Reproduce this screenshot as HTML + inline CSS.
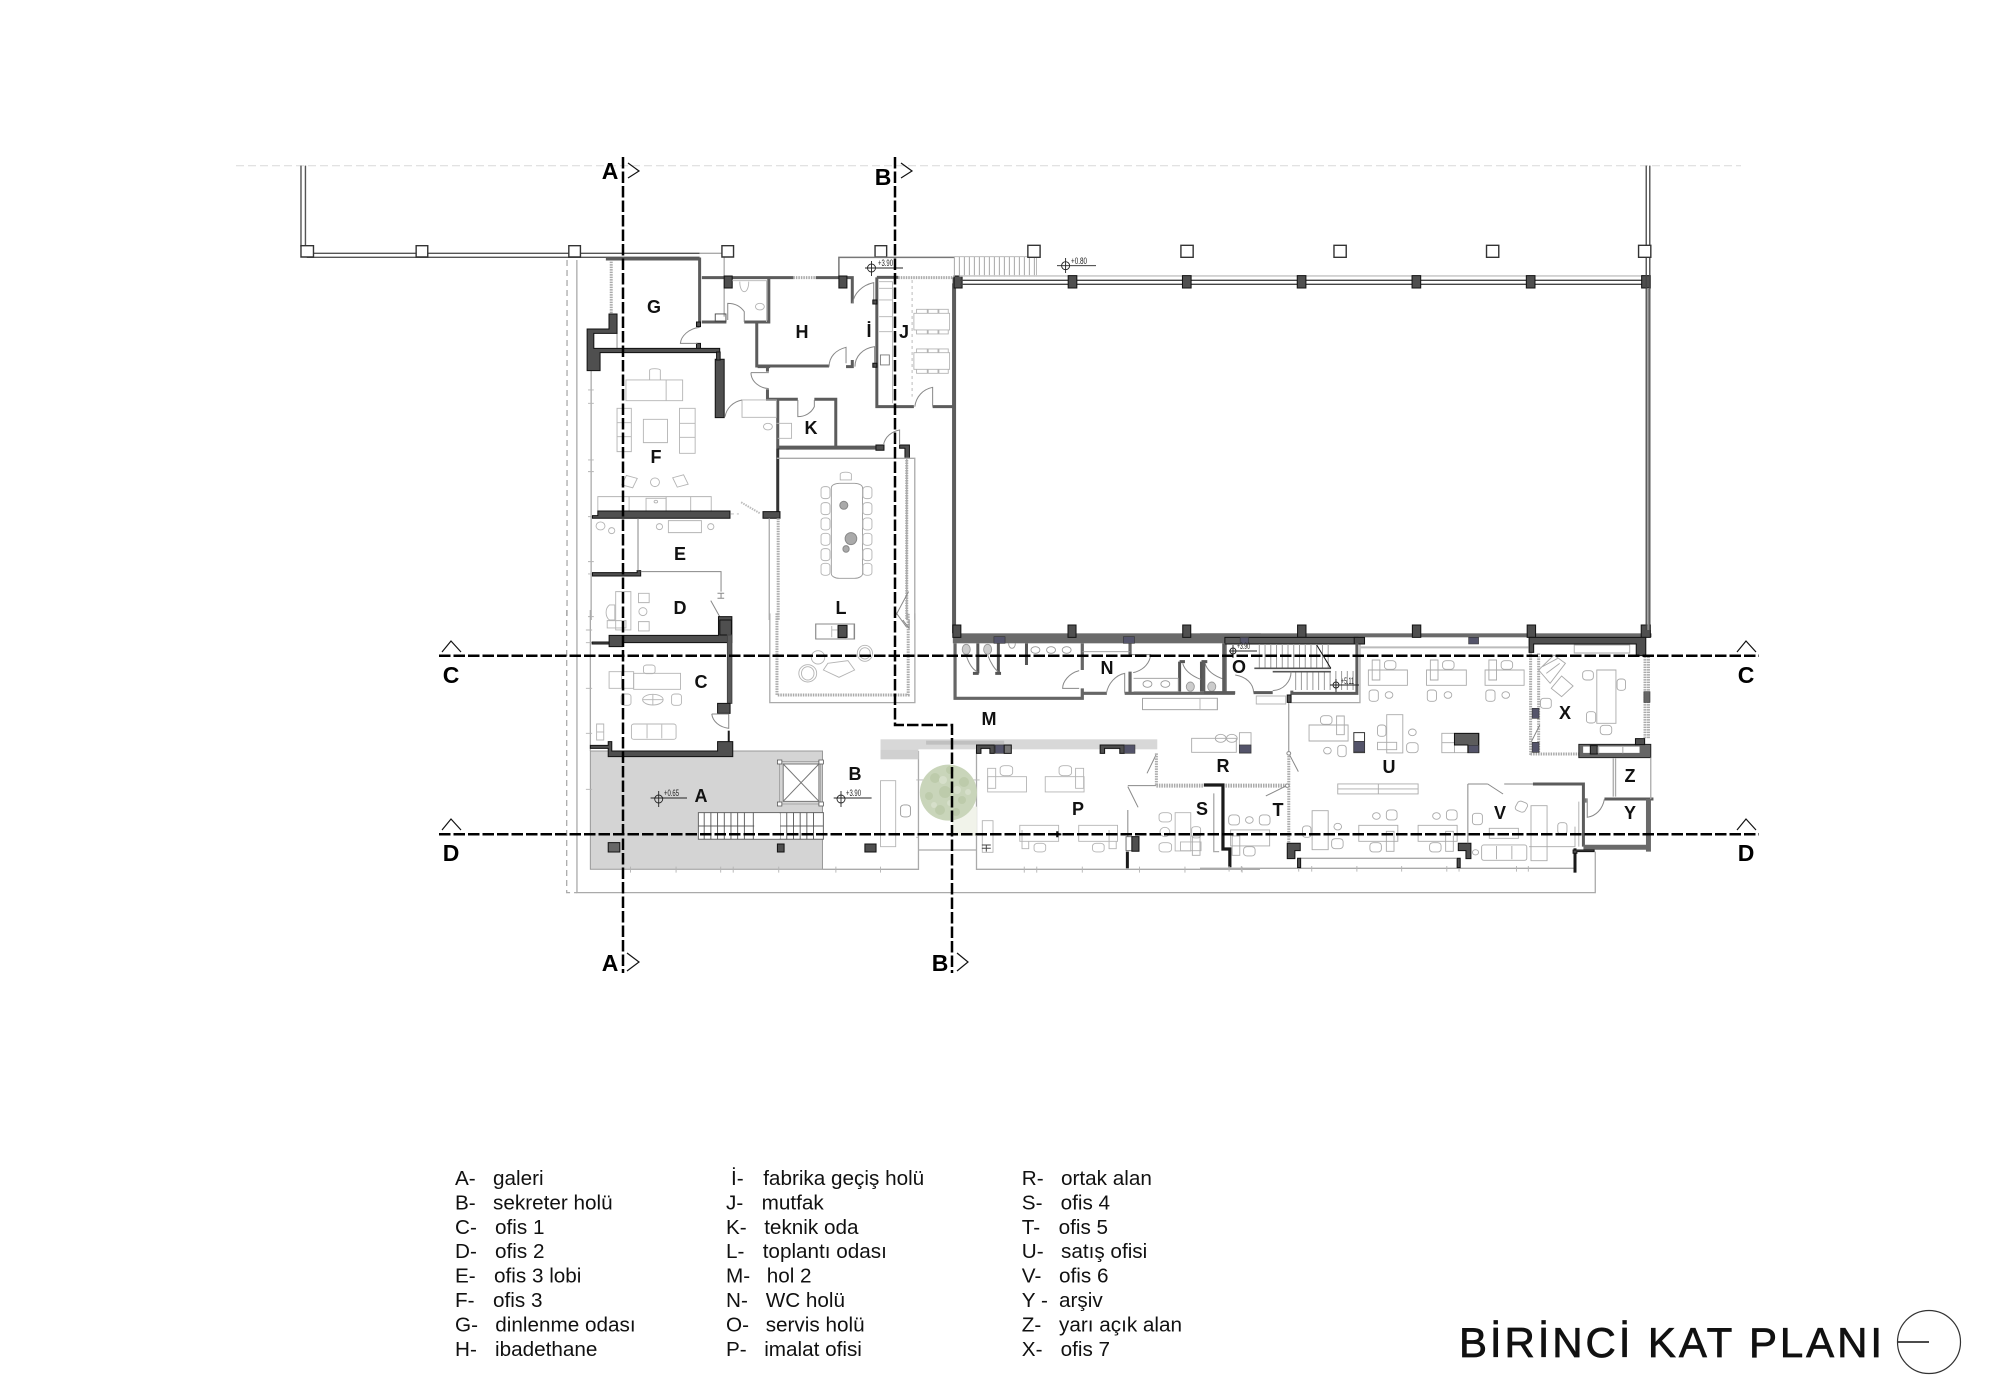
<!DOCTYPE html>
<html><head><meta charset="utf-8"><title>Birinci Kat Planı</title>
<style>
html,body{margin:0;padding:0;background:#fff}
svg{display:block}
svg *{vector-effect:non-scaling-stroke}
.w{fill:none;stroke:#5c5c5c;stroke-width:3}
.b{fill:none;stroke:#1a1a1a;stroke-width:3}
.d{fill:#4f4f4f;stroke:#111;stroke-width:1}
.u{fill:#54546a;stroke:#333;stroke-width:.6}
.f{fill:none;stroke:#b4b4b4;stroke-width:.9}
.t{fill:none;stroke:#888;stroke-width:1}
.g{fill:none;stroke:#aaa;stroke-width:1.3}
.h{fill:none;stroke:#aaa;stroke-width:3;stroke-dasharray:1.5 1}
.s{fill:none;stroke:#000;stroke-width:2.5;stroke-dasharray:11.5 3}
.c{fill:none;stroke:#111;stroke-width:1.2}
.l{font:bold 18px "Liberation Sans",sans-serif;text-anchor:middle;fill:#111}
.x{font:bold 23px "Liberation Sans",sans-serif;text-anchor:middle;fill:#000}
.k{font:20.7px "Liberation Sans","Noto Sans CJK SC",sans-serif;fill:#111}
.e{font:9px "Liberation Sans",sans-serif;fill:#222}
</style></head><body>
<svg width="2000" height="1400" viewBox="0 0 2000 1400" xmlns="http://www.w3.org/2000/svg">
<rect width="2000" height="1400" fill="#fff"/>
<path d="M236 165.7H1741" fill="none" stroke="#dedede" stroke-width="1.2" stroke-dasharray="8 4"/>

<!-- ZOOM-1 REGION -->
<g transform="translate(280 150) scale(.4464 .3333)">
<path class="t" style="stroke:#555;stroke-width:1.4" d="M47 47V290M57 47V290M60 310H940M60 322H940"/>
<path class="g" style="stroke:#aaa" d="M940 310H990M995 322V500"/>
<g fill="#fff" stroke="#333" stroke-width="1.4">
<rect x="47" y="287" width="28" height="34"/><rect x="305" y="287" width="26" height="34"/><rect x="647" y="287" width="26" height="34"/><rect x="990" y="287" width="26" height="34"/><rect x="1333" y="287" width="26" height="34"/>
</g>
<path class="g" d="M643 330V1410" style="stroke-dasharray:6 4"/>
<path class="g" d="M665 330V1410M697 662V1410M755 550V596"/>
<path class="f" d="M690 720H703M690 760H703M690 930H703M690 965H703M690 1100H703M690 1235H703M690 1272H703M690 1400H703"/>
<path class="h" d="M742 335V492"/>
<!-- G/H walls -->
<path class="w" d="M730 327H940V520"/>
<path class="w" d="M945 383H1150M1200 383H1282V460M1282 630V650H1268"/>
<path class="h" d="M1150 383H1200"/>
<path class="t" style="stroke:#777;stroke-width:1.5" d="M1252 382V322H1510"/>
<path class="w" d="M1095 385V516H1040M945 516H1000M1068 516V648H1230"/>
<rect class="d" x="995" y="378" width="18" height="36"/><rect class="d" x="1252" y="378" width="18" height="36"/>
<rect class="d" x="933" y="516" width="9" height="14" /><rect class="d" x="933" y="580" width="9" height="18"/>
<rect class="f" x="975" y="492" width="24" height="22" style="stroke:#444"/>
<path class="f" d="M1013 392H1090V516M1030 395c0 40 20 40 20 0M1065 470a10 10 0 1 0 20 0a10 10 0 1 0-20 0"/>
<path class="t" d="M1040 516V485C1030 465 1015 460 1003 460V510M940 532C915 535 898 560 897 580H935"/>
<!-- stepped wall -->
<path class="d" d="M737 492H755V550H703V595H985V608H717V662H688V537H737Z"/>
<rect class="d" x="975" y="628" width="20" height="175"/>
<rect class="d" x="978" y="606" width="8" height="24"/>
<!-- middle -->
<path class="w" d="M1092 650V665M1070 650H1098M1092 718V748H1160M1197 748H1245V892M1115 750V895"/>
<path class="t" d="M1055 668H1095M1055 668C1055 695 1075 715 1095 716M1197 750V770C1190 790 1175 800 1160 800V750"/>
<path class="w" style="stroke-width:4" d="M1115 893H1336"/>
<rect class="d" x="1335" y="885" width="18" height="16"/>
<path class="d" d="M1388 885H1410V925H1400V895H1388Z"/>
<path class="b" style="stroke-width:3;stroke:#333" d="M1115 895V1090"/>
<rect class="d" x="1082" y="1085" width="38" height="20"/>
<path class="t" d="M1352 885C1355 860 1370 845 1388 840V885"/>
<path class="f" d="M1035 750H1112V802H1035ZM1112 820H1146V865H1115"/>
<circle class="f" cx="1093" cy="830" r="10"/>
<path class="t" d="M997 800C1000 775 1015 755 1035 750"/>
<!-- J room -->
<path class="w" d="M1337 382H1385M1337 382V770H1420M1462 770H1510M1510 382V1450"/>
<path class="w" style="stroke-width:4" d="M1510 400V1450"/>
<path class="h" d="M1385 383H1508"/>
<rect class="d" x="1510" y="378" width="18" height="36"/>
<path class="t" d="M1283 460C1285 430 1305 405 1330 398V450M1288 650C1288 620 1305 595 1332 590V650M1230 650C1230 620 1245 600 1268 592V640M1422 770C1425 740 1440 718 1462 712V770"/>
<rect class="d" x="1328" y="450" width="9" height="12"/><rect class="d" x="1328" y="640" width="9" height="12"/>
<path class="f" d="M1342 395H1372V760M1342 415H1372V450H1342M1342 500H1372V545H1342"/>
<rect class="f" x="1345" y="615" width="20" height="30" style="stroke:#777"/>
<path class="t" style="stroke:#bbb" stroke-dasharray="3 3" d="M1416 390V740"/>
<g class="f"><rect x="1420" y="490" width="80" height="50"/><rect x="1420" y="608" width="80" height="50"/>
<path d="M1426 490V478H1450V490M1452 490V478H1474V490M1476 490V478H1497V490M1426 540V552H1450V540M1452 540V552H1474V540M1476 540V552H1497V540M1426 608V597H1450V608M1452 608V597H1474V608M1476 608V597H1497V608M1426 658V670H1450V658M1452 658V670H1474V658M1476 658V670H1497V658"/></g>
<!-- F furniture -->
<g class="f">
<path d="M775 690H902V752H775ZM865 690V752"/><path d="M828 690V660C830 655 848 655 852 660V690"/>
<rect x="755" y="775" width="32" height="130"/><path d="M755 818H787M755 860H787"/>
<rect x="895" y="775" width="35" height="135"/><path d="M895 820H930M895 862H930"/>
<rect x="814" y="808" width="54" height="70"/>
<rect x="770" y="980" width="26" height="30" transform="rotate(20 783 995)"/><ellipse cx="840" cy="997" rx="10" ry="13"/><rect x="884" y="978" width="26" height="30" transform="rotate(-20 897 993)"/>
<path d="M712 1083V1040H966V1083M782 1040V1083M865 1040V1083M920 1040V1083"/>
<rect x="820" y="1045" width="45" height="38"/><circle cx="842" cy="1055" r="4"/>
<rect x="870" y="1112" width="74" height="36"/><ellipse cx="850" cy="1130" rx="7" ry="9"/><ellipse cx="965" cy="1130" rx="7" ry="9"/><ellipse cx="718" cy="1128" rx="10" ry="12"/><ellipse cx="743" cy="1142" rx="7" ry="9"/>
</g>
<path class="h" style="stroke-width:2;stroke:#bbb" d="M1033 1057L1075 1090"/>
<path class="f" d="M1010 1092H1028" stroke-dasharray="3 3"/>
<!-- F/E, E/D walls -->
<path class="d" d="M712 1083H1008V1105H700V1097H712Z"/>
<path class="d" d="M700 1268H800V1262H808V1278H700Z"/>
<path class="t" d="M808 1265H988V1325M980 1330H995M988 1330V1345M980 1345H995M965 1352L985 1400M802 1105V1262"/>
<g class="f">
<rect x="752" y="1325" width="34" height="115"/><path d="M738 1365C728 1375 728 1400 738 1410H750V1365Z"/>
<rect x="733" y="1412" width="42" height="22"/>
<rect x="803" y="1330" width="24" height="28"/><ellipse cx="813" cy="1385" rx="9" ry="12"/><rect x="803" y="1415" width="24" height="28"/>
</g>
<!-- L room top -->
<path class="g" d="M1096 1105V1410M1113 925H1422V1410M1404 925V1410"/>
<path class="h" d="M1116 1105V1410M1404 930V1410"/>
<g class="f">
<rect x="1235" y="1000" width="70" height="285" rx="18" ry="14" style="stroke:#999"/>
<path d="M1255 990V972C1258 965 1276 965 1280 972V990H1255Z"/>
<rect x="1212" y="1010" width="20" height="36" rx="8"/><rect x="1212" y="1058" width="20" height="36" rx="8"/><rect x="1212" y="1104" width="20" height="36" rx="8"/><rect x="1212" y="1150" width="20" height="36" rx="8"/><rect x="1212" y="1196" width="20" height="36" rx="8"/><rect x="1212" y="1240" width="20" height="36" rx="8"/>
<rect x="1306" y="1010" width="20" height="36" rx="8"/><rect x="1306" y="1058" width="20" height="36" rx="8"/><rect x="1306" y="1104" width="20" height="36" rx="8"/><rect x="1306" y="1150" width="20" height="36" rx="8"/><rect x="1306" y="1196" width="20" height="36" rx="8"/><rect x="1306" y="1240" width="20" height="36" rx="8"/>
</g>
<ellipse cx="1263" cy="1066" rx="9" ry="12" fill="#aaa" stroke="#888"/><ellipse cx="1279" cy="1166" rx="13" ry="18" fill="#aaa" stroke="#888"/><ellipse cx="1268" cy="1197" rx="7" ry="10" fill="#aaa" stroke="#888"/>
<rect class="f" x="1200" y="1422" width="86" height="45" style="stroke:#888"/>
<rect class="d" x="1250" y="1428" width="18" height="35"/>
<path class="f" d="M1236 1428V1462M1236 1440H1250"/>
<path class="t" d="M1380 1395L1408 1325M1380 1388L1404 1432"/>
</g>

<!-- ZOOM-2 REGION -->
<g transform="translate(560 620) scale(.4464 .3333)">
<path d="M68 393H588V748H68Z" fill="#d4d4d4" stroke="#999" stroke-width="1"/>
<path class="g" style="stroke:#aaa;stroke-dasharray:6 4" d="M15 -30V818H38"/>
<path class="g" d="M38 -30V818H1568M68 -30V393"/>
<path class="f" d="M58 30H72M58 68H72M58 205H72M58 340H72M58 508H72"/>
<!-- D/C walls -->
<path class="d" d="M110 46H355V-10H385V68H140V80H110V66H72V72H110Z" />
<rect class="d" x="358" y="0" width="26" height="45"/>
<rect class="w" style="stroke:#444;stroke-width:1;fill:#5a5a5a" x="375" y="45" width="10" height="205"/>
<rect class="d" x="353" y="250" width="28" height="30"/>
<path class="t" d="M340 282C342 305 358 322 378 325V282H340"/>
<path class="b" style="stroke-width:2" d="M378 332V365"/>
<path class="d" d="M68 376H108V365H116V393H353V365H387V410H108V385H68Z"/>
<!-- C furniture -->
<g class="f">
<rect x="165" y="160" width="105" height="48"/><rect x="110" y="155" width="28" height="50"/><path d="M138 155H165V205H138"/>
<rect x="187" y="135" width="26" height="26" rx="7"/>
<rect x="137" y="222" width="22" height="34" rx="7"/><ellipse cx="208" cy="239" rx="23" ry="16"/><path d="M185 239H231M208 224V255"/><rect x="250" y="222" width="22" height="34" rx="7"/>
<rect x="160" y="312" width="100" height="46" rx="6"/><path d="M195 314V355M228 314V355"/>
<rect x="82" y="312" width="16" height="48"/><path d="M82 336H98"/>
</g>
<!-- L room bottom -->
<path class="g" d="M470 -20V248H795V-20"/>
<path class="h" d="M486 -20V225H780V-20"/>
<g class="f">
<rect x="573" y="12" width="87" height="45" style="stroke:#888"/>
<ellipse cx="555" cy="160" rx="20" ry="26"/><ellipse cx="555" cy="160" rx="14" ry="20"/>
<ellipse cx="578" cy="112" rx="15" ry="20"/><ellipse cx="683" cy="100" rx="17" ry="24"/><ellipse cx="683" cy="100" rx="12" ry="17"/>
<path d="M600 130L645 122L660 150L625 172L590 150Z"/>
</g>
<rect class="d" x="623" y="16" width="20" height="36"/>
<path class="t" d="M768 0L782 25V0"/>
<!-- elevator -->
<g>
<rect x="500" y="432" width="80" height="112" fill="#fff" stroke="#777" stroke-width="1"/>
<path class="t" style="stroke:#777" d="M500 432L580 544M580 432L500 544"/>
<path class="t" style="stroke:#999;stroke-width:.8" d="M490 425H588M490 552H588M492 425V552M584 425V552"/>
<g fill="#fff" stroke="#555" stroke-width=".8"><rect x="487" y="420" width="10" height="12"/><rect x="580" y="420" width="10" height="12"/><rect x="487" y="546" width="10" height="12"/><rect x="580" y="546" width="10" height="12"/></g>
</g>
<!-- stairs -->
<rect x="310" y="578" width="280" height="80" fill="#fff" stroke="#666" stroke-width="1"/>
<path d="M310 618H590" stroke="#666" stroke-width="1" fill="none"/>
<path d="M323 578V658M338 578V658M353 578V658M368 578V658M383 578V658M398 578V658M413 578V658M433 578V658M493 578V658M508 578V658M523 578V658M538 578V658M553 578V658M568 578V658" stroke="#555" stroke-width=".9" fill="none"/>
<rect x="435" y="580" width="58" height="76" fill="#fff"/>
<rect class="d" x="108" y="668" width="26" height="28" style="fill:#666"/><rect class="d" x="487" y="672" width="15" height="24"/><rect class="d" x="683" y="672" width="25" height="24"/>
<!-- B/P boundary -->
<path class="g" d="M588 748H803V393M933 390V748H1568M803 690H933"/>
<path class="f" d="M618 740V758M718 740V758M260 740V758M360 740V758M388 740V758M490 740V758M158 740V758M1040 740V758M1068 740V758M1170 740V758M1298 740V758M1400 740V758M1528 740V758"/>
<rect x="718" y="358" width="620" height="30" fill="#d8d8d8"/>
<rect x="718" y="388" width="85" height="30" fill="#d0d0d0"/>
<rect x="820" y="362" width="175" height="12" fill="#c0c0c0"/>
<path class="f" d="M718 482H752V680H718ZM798 480H940M798 652H803"/>
<rect class="f" x="763" y="555" width="22" height="36" rx="8" style="stroke:#999"/>
<rect x="878" y="560" width="56" height="88" fill="#f1f3ea"/>
<ellipse cx="870" cy="518" rx="64" ry="84" fill="#c9d5ba"/>
<!-- P columns -->
<path class="d" d="M933 375H973V400H963V385H943V400H933Z"/><rect class="u" x="975" y="375" width="20" height="25"/><rect class="d" x="995" y="375" width="16" height="25" style="fill:#777"/>
<path class="d" d="M1210 375H1264V400H1254V385H1220V400H1210Z"/><rect class="u" x="1264" y="375" width="24" height="25"/>
<!-- P furniture -->
<g class="f">
<rect x="958" y="470" width="87" height="46"/><rect x="958" y="445" width="18" height="60"/><rect x="986" y="437" width="28" height="30" rx="9"/>
<rect x="1087" y="470" width="87" height="46"/><rect x="1155" y="445" width="18" height="60"/><rect x="1118" y="437" width="28" height="30" rx="9"/>
<rect x="1030" y="616" width="87" height="48"/><path d="M1035 630V686H1050V664M1075 664"/><rect x="1062" y="670" width="26" height="26" rx="8"/>
<rect x="1162" y="616" width="87" height="48"/><path d="M1230 630V686H1246V664"/><rect x="1193" y="670" width="26" height="26" rx="8"/>
<rect x="946" y="602" width="24" height="95"/>
<rect x="1342" y="578" width="28" height="28" rx="9"/><rect x="1342" y="668" width="28" height="28" rx="9"/><ellipse cx="1355" cy="636" rx="11" ry="14"/>
<rect x="1378" y="578" width="35" height="115"/><rect x="1390" y="666" width="46" height="26"/><rect x="1415" y="620" width="20" height="34" rx="7"/>
</g>
<path d="M945 685H965M955 675V695M945 675H965" stroke="#444" fill="none"/>
<path d="M1105 643H1123M1114 634V652" stroke="#111" stroke-width="2.2" fill="none"/>
<path class="t" d="M1315 460L1335 405M1272 500L1295 562M1272 570V650"/>
<path class="h" style="stroke-width:3" d="M1336 400V498"/>
<path class="h" style="stroke-width:4" d="M1336 497H1442"/>
<path class="t" d="M1272 497H1335"/>
<rect class="f" x="1268" y="650" width="14" height="42" style="stroke:#666"/>
<rect class="d" x="1281" y="650" width="16" height="44"/>
<path class="b" style="stroke-width:3" d="M1271 695V745"/>
<!-- top wall + WC -->
<rect x="880" y="40" width="690" height="30" fill="#6a6a6a"/>
<rect class="d" x="880" y="15" width="18" height="37"/><rect class="d" x="1138" y="15" width="18" height="37"/><rect class="d" x="1395" y="15" width="18" height="37"/>
<rect class="u" x="972" y="50" width="25" height="20"/><rect class="u" x="1262" y="50" width="25" height="20"/>
<path class="w" style="stroke:#666;stroke-width:3.2" d="M885 70V235H1170V205M1170 150V70M1170 220H1225M1265 220H1512M1490 70V220M1277 70V104M1277 155V220"/>
<path class="b" style="stroke:#555;stroke-width:3" d="M936 70V160M982 70V160M1045 70V135M925 160H938M975 160H988M1388 125V215M1437 125V215M1388 125H1400M1437 125H1450"/>
<path class="t" d="M910 105C915 130 925 150 935 155M958 105C965 130 975 150 982 155"/>
<g class="f" style="stroke:#999">
<ellipse cx="910" cy="88" rx="9" ry="15" style="fill:#ccc"/><ellipse cx="958" cy="88" rx="9" ry="15" style="fill:#ccc"/><path d="M1005 70C1005 90 1020 90 1020 70"/>
<circle cx="1065" cy="90" r="10"/><circle cx="1100" cy="90" r="10"/><circle cx="1135" cy="90" r="10"/>
<path d="M1285 175H1385V215H1285"/><circle cx="1316" cy="192" r="10"/><circle cx="1356" cy="192" r="10"/>
<ellipse cx="1412" cy="200" rx="9" ry="14" style="fill:#ccc"/><ellipse cx="1460" cy="200" rx="9" ry="14" style="fill:#ccc"/>
<rect x="1305" y="235" width="168" height="34"/><path d="M1170 95H1277"/>
</g>
<path class="t" d="M1163 152C1140 160 1126 185 1126 205H1163M1224 220C1228 190 1245 165 1265 160V220M1284 158C1310 150 1322 125 1323 104H1280M1395 130C1400 155 1420 170 1435 178M1445 130C1450 155 1470 170 1488 178"/>
<!-- R furniture -->
<g class="f" style="stroke:#aaa">
<rect x="1415" y="355" width="100" height="42"/><circle cx="1480" cy="355" r="12"/><circle cx="1505" cy="355" r="12"/>
<rect x="1522" y="338" width="26" height="62"/>
</g>
<rect class="u" x="1522" y="375" width="26" height="24"/>
</g>

<!-- tree mottling -->
<g fill="#bdcbab">
<circle cx="935" cy="778" r="5"/><circle cx="950" cy="770" r="4"/><circle cx="964" cy="782" r="5"/><circle cx="929" cy="796" r="4"/><circle cx="945" cy="792" r="6"/><circle cx="962" cy="800" r="4"/><circle cx="940" cy="810" r="5"/><circle cx="956" cy="812" r="4"/>
</g>
<g fill="#d6dfca">
<circle cx="943" cy="780" r="4"/><circle cx="957" cy="790" r="4"/><circle cx="934" cy="805" r="3"/><circle cx="950" cy="803" r="3"/><circle cx="968" cy="792" r="3"/>
</g>

<!-- ZOOM-3 REGION -->
<g transform="translate(1200 620) scale(.38265 .3333)">
<rect x="0" y="40" width="1180" height="12" fill="#6a6a6a"/>
<rect class="d" x="255" y="15" width="22" height="37"/><rect class="d" x="555" y="15" width="22" height="37"/><rect class="d" x="855" y="15" width="22" height="37"/><rect class="d" x="1153" y="15" width="24" height="37"/>
<path class="t" style="stroke:#bbb;stroke-width:2" d="M420 82H858"/>
<rect class="u" x="702" y="52" width="26" height="20"/>
<path class="g" d="M418 70V248H235"/>
<!-- stair block -->
<rect x="65" y="52" width="348" height="20" fill="#5c5c5c" stroke="#111"/>
<rect class="u" x="105" y="52" width="22" height="20"/><rect class="d" x="403" y="52" width="27" height="20"/>
<path class="w" d="M62 70V218H92"/>
<path class="w" d="M62 218H10M10 125V215"/>
<path class="w" d="M410 70V220H240V212M140 218H190"/>
<path d="M155 72V145M170 72V145M185 72V145M200 72V145M215 72V145M230 72V145M245 72V145M260 72V145M275 72V145M290 72V145M305 72V145M320 72V145M335 72V145M250 153V210M265 153V210M280 153V210M295 153V210M310 153V210M325 153V210M340 153V210M355 153V210M370 153V210M385 153V210M400 153V210" stroke="#9a9a9a" fill="none"/>
<path d="M142 145H342M190 155H342" stroke="#555" stroke-width="1.6" fill="none"/>
<path d="M305 75L342 145" stroke="#111" fill="none"/>
<path class="t" d="M92 165C120 170 140 190 140 218M238 155C238 185 218 210 190 212"/>
<rect class="f" x="147" y="228" width="77" height="24"/>
<rect class="f" x="0" y="235" width="45" height="34"/>
<!-- partition -->
<path class="t" style="stroke:#888" d="M232 225V395"/>
<rect class="d" x="228" y="225" width="10" height="22"/>
<path class="h" d="M232 400V670"/>
<path class="h" style="stroke-width:4" d="M60 497H228"/>
<path class="t" d="M232 400L257 455M225 498L172 528"/>
<circle cx="232" cy="400" r="5" fill="#fff" stroke="#888"/><circle cx="228" cy="497" r="5" fill="#fff" stroke="#888"/>
<path class="b" style="stroke-width:3.2" d="M10 495H60V687H78V742"/>
<path class="g" d="M36 520V695H50"/>
<!-- lower walls -->
<path class="g" d="M980 745H0M1033 695V818H0M262 715H670"/>
<path class="f" d="M76 738V755M108 738V755M258 738V755M292 738V755M410 738V755M527 738V755M645 738V755M677 738V755M827 738V755M858 738V755"/>
<path class="d" d="M228 670H262V692H248V716H228Z"/><rect class="d" x="255" y="715" width="8" height="28"/>
<path class="d" d="M675 670H708V716H695V692H675Z"/><rect class="d" x="672" y="715" width="8" height="28"/>
<!-- U furniture -->
<g class="f" style="stroke:#aaa">
<rect x="440" y="150" width="102" height="46"/><rect x="450" y="120" width="20" height="60"/><rect x="482" y="122" width="30" height="26" rx="9"/><rect x="442" y="210" width="24" height="34" rx="8"/><circle cx="494" cy="225" r="10"/>
<rect x="592" y="150" width="104" height="46"/><rect x="602" y="120" width="20" height="60"/><rect x="634" y="122" width="30" height="26" rx="9"/><rect x="594" y="210" width="24" height="34" rx="8"/><circle cx="648" cy="225" r="10"/>
<rect x="745" y="150" width="102" height="46"/><rect x="755" y="120" width="20" height="60"/><rect x="787" y="122" width="30" height="26" rx="9"/><rect x="747" y="210" width="24" height="34" rx="8"/><circle cx="799" cy="225" r="10"/>
<rect x="285" y="315" width="102" height="48"/><rect x="357" y="288" width="20" height="56"/><rect x="315" y="287" width="30" height="26" rx="9"/><circle cx="333" cy="392" r="10"/><rect x="360" y="376" width="22" height="34" rx="8"/>
<rect x="488" y="284" width="42" height="115"/><rect x="464" y="367" width="50" height="22"/><rect x="464" y="315" width="22" height="34" rx="8"/><circle cx="555" cy="337" r="10"/><rect x="540" y="368" width="30" height="30" rx="9"/>
<rect x="632" y="340" width="98" height="58"/><path d="M632 368H665M665 340V398"/>
<path d="M360 492H570V522H360ZM360 507H570M466 492V522"/>
<rect x="293" y="572" width="42" height="117"/><rect x="268" y="618" width="22" height="34" rx="8"/><circle cx="360" cy="620" r="10"/><rect x="344" y="656" width="30" height="30" rx="9"/>
<rect x="415" y="616" width="102" height="48"/><rect x="487" y="634" width="20" height="60"/><circle cx="461" cy="588" r="10"/><rect x="487" y="570" width="28" height="30" rx="9"/><rect x="444" y="668" width="30" height="28" rx="9"/>
<rect x="570" y="616" width="102" height="48"/><rect x="642" y="634" width="20" height="60"/><circle cx="618" cy="588" r="10"/><rect x="644" y="570" width="28" height="30" rx="9"/><rect x="600" y="668" width="30" height="28" rx="9"/>
<rect x="75" y="585" width="28" height="30" rx="9"/><circle cx="129" cy="600" r="10"/><rect x="155" y="585" width="28" height="30" rx="9"/>
<rect x="80" y="630" width="102" height="48"/><rect x="84" y="648" width="20" height="58"/><rect x="114" y="680" width="30" height="28" rx="9"/>
<rect x="-20" y="648" width="20" height="58"/>
</g>
<rect x="402" y="338" width="28" height="60" fill="#fff" stroke="#333"/>
<rect class="u" x="402" y="364" width="28" height="32"/>
<path d="M665 340H728V398H700V375H665Z" fill="#5c5c5c" stroke="#111"/>
<rect class="u" x="702" y="376" width="26" height="22"/>
<!-- V -->
<path class="w" d="M870 492H1002V680"/>
<path class="t" d="M700 492V670M700 492H752M752 492L792 522M795 492H870"/>
<g class="f" style="stroke:#aaa">
<rect x="736" y="675" width="118" height="46" rx="6"/><path d="M775 678V718M815 678V718"/>
<rect x="865" y="557" width="42" height="165"/><rect x="756" y="625" width="76" height="30"/>
<rect x="826" y="545" width="28" height="30" rx="9" transform="rotate(25 840 560)"/><rect x="712" y="580" width="26" height="34" rx="8"/><rect x="935" y="608" width="24" height="34" rx="8"/>
<path d="M980 620V680H860M990 545V680"/><circle cx="720" cy="697" r="8"/>
</g>
<!-- X -->
<path class="d" d="M860 52H1165V107H1140V72H872V97H860Z"/>
<path class="h" d="M864 100V405M885 100V400M864 402H990M1163 110V355M1172 110V355"/>
<rect class="u" x="868" y="265" width="18" height="30"/><rect class="u" x="868" y="367" width="18" height="30"/>
<path class="t" d="M866 365L888 315"/>
<rect class="u" x="1160" y="215" width="16" height="32" style="fill:#666"/>
<g class="f" style="stroke:#aaa">
<rect x="978" y="75" width="145" height="24"/>
<path d="M885 150L925 105L955 130L915 190Z"/><path d="M895 140L935 115M905 160L940 130"/>
<path d="M918 205L945 168L975 198L945 230Z"/>
<rect x="890" y="235" width="28" height="30" rx="8"/>
<rect x="1037" y="150" width="50" height="160"/><rect x="1000" y="152" width="28" height="28" rx="9"/><rect x="1090" y="177" width="22" height="34" rx="8"/><rect x="1010" y="275" width="24" height="34" rx="8"/><rect x="1046" y="316" width="30" height="28" rx="9"/>
</g>
<path d="M990 373H1178V413H990Z" fill="#666" stroke="#222"/>
<rect x="1000" y="378" width="150" height="22" fill="#fff" stroke="#666"/>
<path d="M1042 378V400M1105 378V400" stroke="#aaa" fill="none"/>
<rect class="d" x="1020" y="377" width="18" height="25"/>
<rect class="d" x="1138" y="356" width="24" height="18"/>
<path class="g" d="M1080 415V530M1086 415V530"/>
<!-- Z / Y -->
<path class="w" d="M1057 537H1185"/>
<path class="w" style="stroke-width:5;stroke:#6a6a6a" d="M1172 537V695"/>
<path class="w" style="stroke-width:5;stroke:#6a6a6a" d="M1002 682H1175"/>
<path class="b" style="stroke-width:3" d="M980 685V758"/>
<path class="d" d="M975 690H1030V695H985V700H975Z"/>
<path class="t" d="M1012 535V592C1035 588 1052 568 1057 537"/>
<path class="g" d="M1178 413V537"/>
<path class="w" style="stroke:#777;stroke-width:2" d="M1008 535V548"/>
</g>

<!-- ZOOM-6 REGION -->
<g transform="translate(960 150) scale(.5102 .3333)">
<path d="M-12 350H150" fill="none" stroke="#a8a8a8" stroke-width="20" stroke-dasharray="1 4"/>
<path class="f" d="M-12 320H150M150 320V380"/>
<path d="M0 378H1340" stroke="#ccc" stroke-width="1.6" fill="none"/>
<path d="M0 391H1340M0 403H1340" stroke="#444" stroke-width="1.3" fill="none"/>
<g class="d"><rect x="212" y="377" width="17" height="37"/><rect x="436" y="377" width="17" height="37"/><rect x="661" y="377" width="17" height="37"/><rect x="886" y="377" width="17" height="37"/><rect x="1110" y="377" width="17" height="37"/><rect x="1336" y="377" width="17" height="37"/></g>
<path d="M1345 47V1440M1352 47V1440" stroke="#444" stroke-width="1.3" fill="none"/>
<path d="M1349 414V1440" stroke="#888" stroke-width="2" fill="none"/>
<g fill="#fff" stroke="#333" stroke-width="1.4"><rect x="133" y="286" width="24" height="36"/><rect x="433" y="286" width="24" height="36"/><rect x="733" y="286" width="24" height="36"/><rect x="1032" y="286" width="24" height="36"/><rect x="1330" y="286" width="24" height="36"/></g>
</g>

<!-- Elevation marks -->
<g fill="none" stroke="#222" stroke-width=".9">
<path d="M865 268H903M871.5 261V276"/><circle cx="871.5" cy="268" r="4"/>
<path d="M1057 265.7H1096M1065.6 258V273"/><circle cx="1065.6" cy="265.7" r="4"/>
<path d="M650.6 798H687M658.7 791V807"/><circle cx="658.7" cy="799" r="4"/>
<path d="M833.7 798H871.6M841 791V807"/><circle cx="841" cy="799" r="4"/>
<path d="M1229 651H1257M1233 645V658"/><circle cx="1233" cy="651" r="3"/>
<path d="M1330 685H1359M1336 679V692"/><circle cx="1336" cy="685" r="3"/>
</g>
<text class="e" x="878" y="266" textLength="15" lengthAdjust="spacingAndGlyphs">+3.90</text>
<text class="e" x="1071" y="264" textLength="16" lengthAdjust="spacingAndGlyphs">+0.80</text>
<text class="e" x="664" y="796" textLength="15" lengthAdjust="spacingAndGlyphs">+0.65</text>
<text class="e" x="846" y="796" textLength="15" lengthAdjust="spacingAndGlyphs">+3.90</text>
<text class="e" x="1237" y="649" textLength="13" lengthAdjust="spacingAndGlyphs">+3.90</text>
<text class="e" x="1341" y="684" textLength="13" lengthAdjust="spacingAndGlyphs">+5.11</text>

<!-- Section lines -->
<path class="s" d="M439 655.7H1759"/>
<path class="s" d="M439 834.3H1759"/>
<path class="s" d="M623 157V973"/>
<path class="s" d="M895 157V725H952V973"/>
<g class="c">
<path d="M628 163L639 171L628 178"/>
<path d="M901 163L912 171L901 178"/>
<path d="M627 953L639 962L627 971"/>
<path d="M957 953L968 962L957 971"/>
<path d="M442 652L451 641L461 652"/>
<path d="M442 830L451 819L461 830"/>
<path d="M1737 652L1746 641L1756 652"/>
<path d="M1737 830L1746 819L1756 830"/>
</g>
<text class="x" x="610" y="179">A</text>
<text class="x" x="883" y="185">B</text>
<text class="x" x="610" y="971">A</text>
<text class="x" x="940" y="971">B</text>
<text class="x" x="451" y="683">C</text>
<text class="x" x="451" y="861">D</text>
<text class="x" x="1746" y="683">C</text>
<text class="x" x="1746" y="861">D</text>

<!-- Room labels -->
<text class="l" x="654" y="313">G</text>
<text class="l" x="802" y="338">H</text>
<text class="l" x="869" y="337">İ</text>
<text class="l" x="904" y="338">J</text>
<text class="l" x="811" y="434">K</text>
<text class="l" x="656" y="463">F</text>
<text class="l" x="680" y="560">E</text>
<text class="l" x="680" y="614">D</text>
<text class="l" x="841" y="614">L</text>
<text class="l" x="701" y="688">C</text>
<text class="l" x="1107" y="674">N</text>
<text class="l" x="1239" y="673">O</text>
<text class="l" x="989" y="725">M</text>
<text class="l" x="1223" y="772">R</text>
<text class="l" x="701" y="802">A</text>
<text class="l" x="855" y="780">B</text>
<text class="l" x="1078" y="815">P</text>
<text class="l" x="1202" y="815">S</text>
<text class="l" x="1278" y="816">T</text>
<text class="l" x="1389" y="773">U</text>
<text class="l" x="1500" y="819">V</text>
<text class="l" x="1565" y="719">X</text>
<text class="l" x="1630" y="782">Z</text>
<text class="l" x="1630" y="819">Y</text>

<!-- Legend -->
<g class="k">
<text x="455" y="1185">A-</text><text x="493" y="1185">galeri</text>
<text x="455" y="1209.4">B-</text><text x="493" y="1209.4">sekreter holü</text>
<text x="455" y="1233.8">C-</text><text x="495" y="1233.8">ofis 1</text>
<text x="455" y="1258.2">D-</text><text x="495" y="1258.2">ofis 2</text>
<text x="455" y="1282.6">E-</text><text x="494" y="1282.6">ofis 3 lobi</text>
<text x="455" y="1307">F-</text><text x="493" y="1307">ofis 3</text>
<text x="455" y="1331.4">G-</text><text x="495.3" y="1331.4">dinlenme odası</text>
<text x="455" y="1355.8">H-</text><text x="495" y="1355.8">ibadethane</text>
<text x="731" y="1185">İ-</text><text x="763.2" y="1185">fabrika geçiş holü</text>
<text x="726" y="1209.4">J-</text><text x="761.6" y="1209.4">mutfak</text>
<text x="726" y="1233.8">K-</text><text x="764.2" y="1233.8">teknik oda</text>
<text x="726" y="1258.2">L-</text><text x="762.7" y="1258.2">toplantı odası</text>
<text x="726" y="1282.6">M-</text><text x="766.7" y="1282.6">hol 2</text>
<text x="726" y="1307">N-</text><text x="765.7" y="1307">WC holü</text>
<text x="726" y="1331.4">O-</text><text x="765.7" y="1331.4">servis holü</text>
<text x="726" y="1355.8">P-</text><text x="764.2" y="1355.8">imalat ofisi</text>
<text x="1021.8" y="1185">R-</text><text x="1061" y="1185">ortak alan</text>
<text x="1021.8" y="1209.4">S-</text><text x="1060.6" y="1209.4">ofis 4</text>
<text x="1021.8" y="1233.8">T-</text><text x="1058.6" y="1233.8">ofis 5</text>
<text x="1021.8" y="1258.2">U-</text><text x="1061" y="1258.2">satış ofisi</text>
<text x="1021.8" y="1282.6">V-</text><text x="1059" y="1282.6">ofis 6</text>
<text x="1021.8" y="1307">Y -</text><text x="1059" y="1307">arşiv</text>
<text x="1021.8" y="1331.4">Z-</text><text x="1059" y="1331.4">yarı açık alan</text>
<text x="1021.8" y="1355.8">X-</text><text x="1060.6" y="1355.8">ofis 7</text>
</g>

<!-- Title -->
<text x="1459" y="1357" textLength="423" lengthAdjust="spacing" style="font:42px 'Liberation Sans',sans-serif;fill:#111;stroke:#111;stroke-width:.7">BİRİNCİ KAT PLANI</text>
<circle cx="1929" cy="1342" r="31.5" fill="none" stroke="#333" stroke-width="1.2"/>
<path d="M1898 1342H1929" stroke="#111" stroke-width="1.5" fill="none"/>
</svg>
</body></html>
